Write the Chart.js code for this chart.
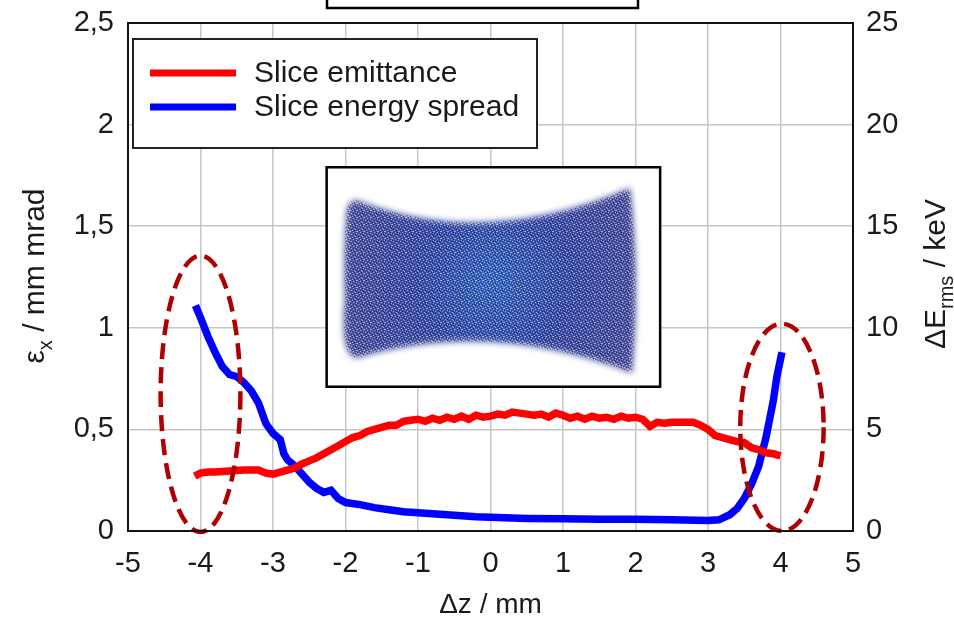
<!DOCTYPE html>
<html><head><meta charset="utf-8">
<script src="https://cdn.jsdelivr.net/npm/chart.js@4"></script>
<style>html,body{margin:0;padding:0;background:#fff}#wrap{width:954px;height:619px;position:relative}</style>
</head><body><div id="wrap"><canvas id="c" width="954" height="619"></canvas></div>
<script>
// ---- data ----
const emitX = [-4.08,-4.0,-3.9,-3.8,-3.6,-3.4,-3.2,-3.1,-3.0,-2.9,-2.8,-2.7,-2.6,-2.5,-2.4,-2.3,-2.2,-2.1,-2.0,-1.9,-1.8,-1.7,-1.6,-1.5,-1.4,-1.3,-1.2,-1.1,-1.0,-0.9,-0.8,-0.7,-0.6,-0.5,-0.4,-0.3,-0.2,-0.1,0.0,0.1,0.2,0.3,0.4,0.5,0.6,0.7,0.8,0.9,1.0,1.1,1.2,1.3,1.4,1.5,1.6,1.7,1.8,1.9,2.0,2.1,2.2,2.3,2.4,2.5,2.6,2.7,2.8,2.9,3.0,3.1,3.2,3.3,3.4,3.5,3.6,3.7,3.8,3.9,4.0];
const emitY = [0.27,0.285,0.29,0.29,0.295,0.30,0.30,0.285,0.28,0.29,0.30,0.31,0.33,0.345,0.36,0.38,0.40,0.42,0.44,0.46,0.47,0.49,0.50,0.51,0.52,0.52,0.54,0.545,0.55,0.54,0.555,0.545,0.56,0.55,0.565,0.55,0.57,0.56,0.565,0.575,0.57,0.585,0.58,0.575,0.57,0.575,0.56,0.58,0.57,0.555,0.565,0.55,0.565,0.555,0.56,0.55,0.565,0.555,0.56,0.55,0.515,0.535,0.53,0.535,0.535,0.535,0.535,0.52,0.50,0.47,0.46,0.45,0.44,0.435,0.41,0.40,0.385,0.38,0.37];
const spreadX = [-4.07,-4.0,-3.9,-3.8,-3.7,-3.6,-3.5,-3.4,-3.3,-3.2,-3.1,-3.0,-2.9,-2.85,-2.8,-2.7,-2.6,-2.5,-2.4,-2.3,-2.2,-2.1,-2.0,-1.8,-1.6,-1.4,-1.2,-1.0,-0.8,-0.6,-0.4,-0.2,0.0,0.2,0.5,1.0,1.5,2.0,2.5,3.0,3.15,3.3,3.4,3.5,3.6,3.7,3.8,3.9,3.95,4.02];
const spreadY = [11.1,10.5,9.6,8.8,8.1,7.7,7.6,7.3,6.9,6.3,5.3,4.8,4.5,3.8,3.5,3.2,2.8,2.4,2.1,1.9,2.0,1.6,1.4,1.3,1.15,1.05,0.95,0.9,0.85,0.8,0.75,0.7,0.68,0.65,0.62,0.6,0.58,0.58,0.55,0.52,0.55,0.8,1.1,1.6,2.3,3.2,4.6,6.4,7.6,8.8];
const xTicks = [-5,-4,-3,-2,-1,0,1,2,3,4,5];
const yLeftTicks = [0,0.5,1,1.5,2,2.5];
const yRightTicks = [0,5,10,15,20,25];
const seriesLabels = ['Slice emittance','Slice energy spread'];
const seriesColors = ['#ff0000','#0000ff'];

const FAM = "'Liberation Sans', Arial, sans-serif";
const TXT = '#1a1a1a';
const comma = v => String(v).replace('.', ',');

function richText(ctx, parts, cx, cy, rot, size) {
  ctx.save();
  ctx.translate(cx, cy);
  ctx.rotate(rot);
  ctx.fillStyle = TXT;
  ctx.textBaseline = 'alphabetic';
  let w = 0;
  for (const p of parts) {
    ctx.font = (p.sub ? Math.round(size*0.65) : size) + 'px ' + FAM;
    p.w = ctx.measureText(p.t).width; w += p.w;
  }
  let x = -w/2;
  for (const p of parts) {
    ctx.font = (p.sub ? Math.round(size*0.65) : size) + 'px ' + FAM;
    ctx.fillText(p.t, x, size*0.36 + (p.sub ? size*0.28 : 0));
    x += p.w;
  }
  ctx.restore();
}

const decor = {
  id: 'decor',
  beforeDatasetsDraw(chart) {
    const {ctx, chartArea: a, scales: {x, y}} = chart;
    // inset picture frame
    const x1 = x.getPixelForValue(-2.26), x2 = x.getPixelForValue(2.34);
    const y1 = y.getPixelForValue(1.79), y2 = y.getPixelForValue(0.71);
    const w = x2 - x1, h = y2 - y1;
    ctx.save();
    ctx.fillStyle = '#fff';
    ctx.fillRect(x1, y1, w, h);
    ctx.beginPath(); ctx.rect(x1, y1, w, h); ctx.clip();
    const P = (fx, fy) => [x1 + fx*w, y1 + fy*h];
    const path = () => {
      ctx.beginPath();
      ctx.moveTo(...P(0.09,0.15));
      ctx.quadraticCurveTo(...P(0.473,0.3775), ...P(0.91,0.095));
      ctx.quadraticCurveTo(...P(0.94,0.5), ...P(0.916,0.936));
      ctx.quadraticCurveTo(...P(0.485,0.688), ...P(0.09,0.868));
      ctx.quadraticCurveTo(...P(0.04,0.86), ...P(0.055,0.6));
      ctx.quadraticCurveTo(...P(0.05,0.4), ...P(0.06,0.2));
      ctx.quadraticCurveTo(...P(0.065,0.15), ...P(0.09,0.15));
      ctx.closePath();
    };
    const [cx, cy] = P(0.5, 0.52);
    const g = ctx.createRadialGradient(cx, cy, 5, cx, cy, w*0.48);
    g.addColorStop(0, 'rgb(55,105,195)');
    g.addColorStop(0.45, 'rgb(58,78,168)');
    g.addColorStop(1, 'rgb(80,85,160)');
    ctx.filter = 'blur(3px)';
    path(); ctx.fillStyle = g; ctx.fill();
    ctx.filter = 'none';
    // grain
    const pc = document.createElement('canvas'); pc.width = 7; pc.height = 7;
    const pctx = pc.getContext('2d');
    pctx.fillStyle = 'rgba(255,255,255,0.5)';
    [[0,0],[3,1],[6,2],[1,3],[4,4],[2,6],[5,5],[6,0]].forEach(([px,py]) => pctx.fillRect(px,py,1,1));
    pctx.fillStyle = 'rgba(10,10,70,0.5)';
    [[2,0],[5,1],[0,2],[3,3],[6,4],[1,5],[4,6],[5,3]].forEach(([px,py]) => pctx.fillRect(px,py,1,1));
    path(); ctx.fillStyle = ctx.createPattern(pc, 'repeat'); ctx.fill();
    ctx.restore();
    ctx.save();
    ctx.strokeStyle = '#000'; ctx.lineWidth = 2.5;
    ctx.strokeRect(x1, y1, w, h);
    ctx.restore();
  },
  afterDatasetsDraw(chart) {
    const {ctx, chartArea: a, scales: {x, y}} = chart;
    // dashed ellipses
    const ell = (cxv, cyv, rxv, ryv) => {
      const cx = x.getPixelForValue(cxv), cy = y.getPixelForValue(cyv);
      const rx = Math.abs(x.getPixelForValue(cxv + rxv) - cx);
      const ry = Math.abs(y.getPixelForValue(cyv + ryv) - cy);
      ctx.beginPath(); ctx.ellipse(cx, cy, rx, ry, 0, 0, Math.PI*2); ctx.stroke();
    };
    ctx.save();
    ctx.strokeStyle = '#ae0000'; ctx.lineWidth = 4.5; ctx.setLineDash([16, 8]);
    ell(-4.0, 0.675, 0.55, 0.68);
    ell(4.02, 0.51, 0.575, 0.51);
    ctx.restore();
    // legend
    const lx = a.left + 5, ly = a.top + 16, lw = 404, lh = 109;
    ctx.save();
    ctx.fillStyle = '#fff'; ctx.fillRect(lx, ly, lw, lh);
    ctx.strokeStyle = '#222'; ctx.lineWidth = 2; ctx.strokeRect(lx, ly, lw, lh);
    ctx.font = '30px ' + FAM; ctx.textBaseline = 'middle'; ctx.textAlign = 'left';
    seriesLabels.forEach((t, i) => {
      const yy = ly + 34 + i*34;
      ctx.strokeStyle = seriesColors[i]; ctx.lineWidth = 7;
      ctx.beginPath(); ctx.moveTo(lx + 17, yy); ctx.lineTo(lx + 103, yy); ctx.stroke();
      ctx.fillStyle = TXT; ctx.fillText(t, lx + 121, yy + 1);
    });
    ctx.restore();
    // plot frame
    ctx.save();
    ctx.strokeStyle = '#111'; ctx.lineWidth = 2;
    ctx.strokeRect(a.left, a.top, a.right - a.left, a.bottom - a.top);
    // cut-off box at top
    ctx.lineWidth = 2.5; ctx.strokeStyle = '#000';
    ctx.strokeRect(a.left + 199, -5, 311, a.top - 10);
    ctx.restore();
    // axis titles
    richText(ctx, [{t:'ε'},{t:'x',sub:true},{t:' / mm mrad'}], 33, 276, -Math.PI/2, 30);
    richText(ctx, [{t:'ΔE'},{t:'rms',sub:true},{t:' / keV'}], 934, 274, -Math.PI/2, 30);
    richText(ctx, [{t:'Δz / mm'}], (a.left + a.right)/2, 603, 0, 28);
  }
};

const tickFont = {family: FAM, size: 29};
new Chart(document.getElementById('c'), {
  type: 'line',
  data: {
    datasets: [
      {label: seriesLabels[0], data: emitX.map((v,i)=>({x:v, y:emitY[i]})), borderColor: seriesColors[0], borderWidth: 7.5, pointRadius: 0, yAxisID: 'y', tension: 0},
      {label: seriesLabels[1], data: spreadX.map((v,i)=>({x:v, y:spreadY[i]})), borderColor: seriesColors[1], borderWidth: 7.5, pointRadius: 0, yAxisID: 'y2', tension: 0}
    ]
  },
  options: {
    responsive: false, animation: false, devicePixelRatio: 1,
    layout: {padding: {top: 23, left: 0, right: 0, bottom: 0}},
    plugins: {legend: {display: false}, tooltip: {enabled: false}},
    scales: {
      x: {type: 'linear', min: -5, max: 5,
        afterBuildTicks: s => { s.ticks = xTicks.map(v => ({value: v})); },
        ticks: {font: tickFont, color: TXT, padding: 16, maxRotation: 0, autoSkip: false},
        grid: {color: '#c6c6c6', lineWidth: 1.5, drawTicks: false},
        border: {display: false},
        afterFit: s => { s.height = 88; s.paddingLeft = 0; s.paddingRight = 0; }},
      y: {position: 'left', min: 0, max: 2.5,
        afterBuildTicks: s => { s.ticks = yLeftTicks.map(v => ({value: v})); },
        ticks: {font: tickFont, color: TXT, padding: 14, callback: v => comma(v)},
        grid: {color: '#c6c6c6', lineWidth: 1.5, drawTicks: false},
        border: {display: false},
        afterFit: s => { s.width = 128; s.paddingTop = 0; s.paddingBottom = 0; }},
      y2: {position: 'right', min: 0, max: 25,
        afterBuildTicks: s => { s.ticks = yRightTicks.map(v => ({value: v})); },
        ticks: {font: tickFont, color: TXT, padding: 13},
        grid: {display: false, drawTicks: false},
        border: {display: false},
        afterFit: s => { s.width = 101; s.paddingTop = 0; s.paddingBottom = 0; }}
    }
  },
  plugins: [decor]
});
</script></body></html>
